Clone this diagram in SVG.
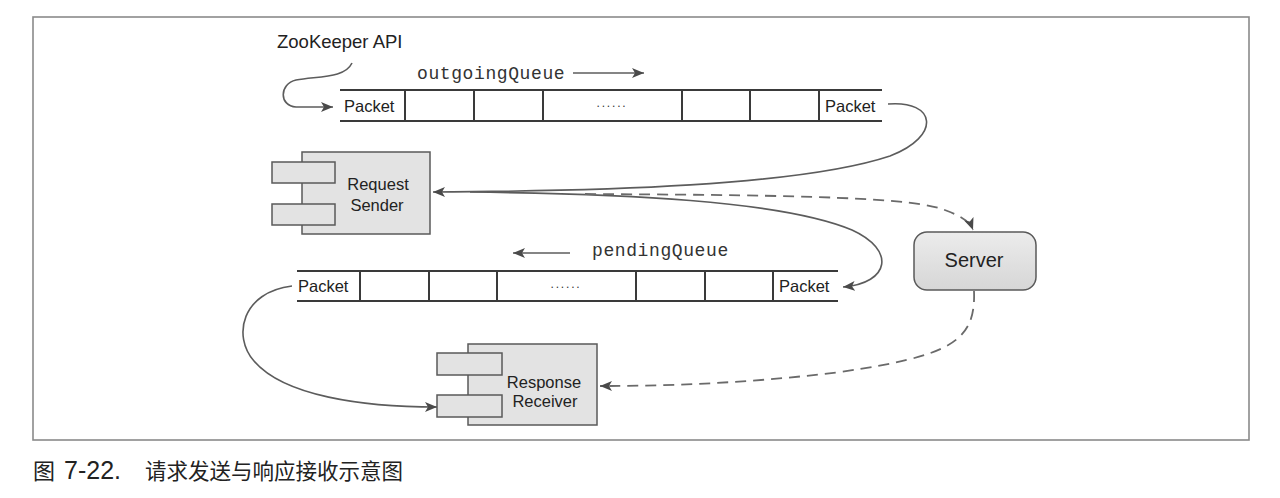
<svg xmlns="http://www.w3.org/2000/svg" width="1280" height="498" viewBox="0 0 1280 498">
<style>
.frame{fill:none;stroke:#8a8a8a;stroke-width:1.6}
.q{stroke:#3a3a3a;stroke-width:2;fill:none}
.lbl{font-family:"Liberation Sans",Arial,sans-serif;font-size:16.5px;fill:#222}
.dots{font-family:"Liberation Sans",Arial,sans-serif;font-size:12px;letter-spacing:1.8px;fill:#333}
.mono{font-family:"Liberation Mono","Courier New",monospace;font-size:18px;letter-spacing:0.6px;fill:#333}
.api{font-family:"Liberation Sans",Arial,sans-serif;font-size:18.5px;fill:#222}
.node{fill:#e3e3e3;stroke:#5a5a5a;stroke-width:1.5}
.conn{fill:none;stroke:#5c5c5c;stroke-width:1.6}
.dash{fill:none;stroke:#6a6a6a;stroke-width:1.8;stroke-dasharray:11 7}
.cap{font-family:"Liberation Sans","Noto Sans CJK SC",sans-serif;font-size:22px;fill:#222}
</style>
<defs>
<marker id="ah" markerUnits="userSpaceOnUse" markerWidth="14" markerHeight="12" refX="12" refY="5" orient="auto">
<path d="M0,0 L12,5 L0,10 L3,5 Z" fill="#4a4a4a"/>
</marker>
<linearGradient id="sg" x1="0" y1="0" x2="0" y2="1">
<stop offset="0" stop-color="#ececec"/>
<stop offset="1" stop-color="#d6d6d6"/>
</linearGradient>
</defs>
<rect x="0" y="0" width="1280" height="498" fill="#ffffff"/>
<rect class="frame" x="33" y="17" width="1216" height="423"/>

<g id="api-label">
<text class="api" x="277" y="48">ZooKeeper API</text>
</g>

<g id="outgoingQueue">
<text class="mono" x="417" y="79">outgoingQueue</text>
<line class="conn" x1="573" y1="73" x2="644" y2="73" marker-end="url(#ah)"/>
<line class="q" x1="340" y1="90" x2="882" y2="90"/>
<line class="q" x1="340" y1="121" x2="882" y2="121"/>
<path class="q" d="M405,90 V121 M474,90 V121 M543,90 V121 M682,90 V121 M750,90 V121 M819,90 V121"/>
<text class="lbl" x="344" y="112">Packet</text>
<text class="dots" x="612" y="107" text-anchor="middle">......</text>
<text class="lbl" x="825" y="112">Packet</text>
</g>

<g id="pendingQueue">
<text class="mono" x="592" y="256">pendingQueue</text>
<line class="conn" x1="570" y1="253" x2="513" y2="253" marker-end="url(#ah)"/>
<line class="q" x1="297" y1="271" x2="838" y2="271"/>
<line class="q" x1="297" y1="301" x2="838" y2="301"/>
<path class="q" d="M360,271 V301 M429,271 V301 M497,271 V301 M636,271 V301 M705,271 V301 M773,271 V301"/>
<text class="lbl" x="298" y="292">Packet</text>
<text class="dots" x="566" y="288" text-anchor="middle">......</text>
<text class="lbl" x="779" y="292">Packet</text>
</g>

<g id="request-sender">
<rect class="node" x="302" y="152" width="128" height="82"/>
<rect class="node" x="272" y="162" width="63" height="21"/>
<rect class="node" x="272" y="204" width="63" height="21"/>
<text class="lbl" x="378" y="190" text-anchor="middle">Request</text>
<text class="lbl" x="377" y="211" text-anchor="middle">Sender</text>
</g>

<g id="server">
<rect x="914" y="232" width="122" height="58" rx="13" ry="13" fill="url(#sg)" stroke="#5a5a5a" stroke-width="1.5"/>
<text class="lbl" x="974" y="267" text-anchor="middle" style="font-size:20px">Server</text>
</g>

<g id="response-receiver">
<rect class="node" x="468" y="344" width="129" height="81"/>
<rect class="node" x="437" y="353" width="65" height="22"/>
<rect class="node" x="437" y="395" width="65" height="22"/>
<text class="lbl" x="544" y="388" text-anchor="middle">Response</text>
<text class="lbl" x="545" y="407" text-anchor="middle">Receiver</text>
</g>

<g id="connectors">
<path class="conn" d="M352,63 C345,78 320,76 296,80 C279,84 279,106 296,107 L333,107" marker-end="url(#ah)"/>
<path class="conn" d="M888,104 C936,100 942,136 890,156 C800,186 600,191 433,192" marker-end="url(#ah)"/>
<path class="conn" d="M470,192 C620,194 780,200 852,230 C896,250 890,283 843,287" marker-end="url(#ah)"/>
<path class="dash" d="M585,194 C760,195 905,196 942,209 C962,216 970,222 973,230" marker-end="url(#ah)"/>
<path class="dash" d="M974,291 C976,342 950,356 840,372 C760,382 680,386 600,386" marker-end="url(#ah)"/>
<path class="conn" d="M292,286 C242,292 232,336 254,361 C284,396 362,407 437,407" marker-end="url(#ah)"/>
</g>

<g id="caption">
<text class="cap" y="479"><tspan x="33">图</tspan><tspan x="64" style="font-size:25px">7-22.</tspan><tspan x="145" style="font-size:21.5px">请求发送与响应接收示意图</tspan></text>
</g>
</svg>
